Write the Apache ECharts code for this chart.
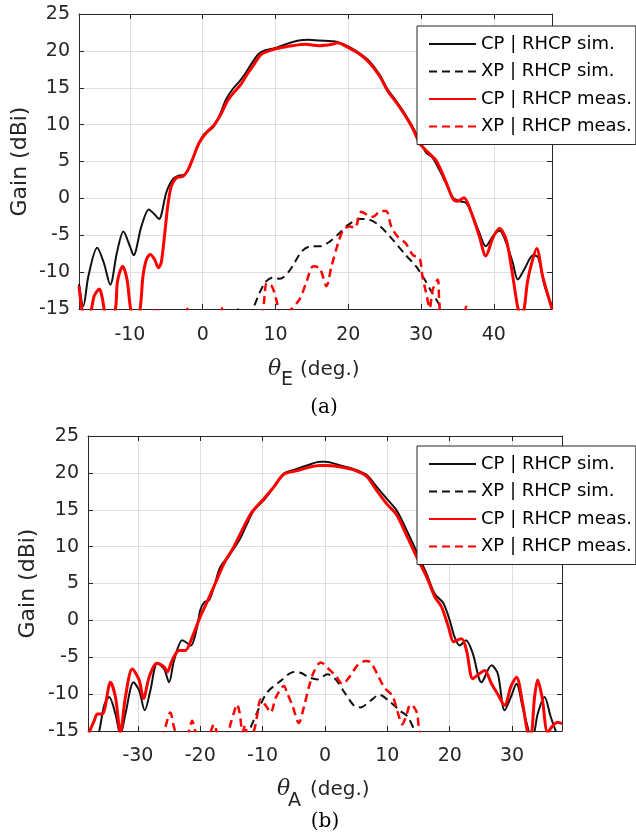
<!DOCTYPE html>
<html><head><meta charset="utf-8">
<script src="https://cdn.jsdelivr.net/npm/echarts@6/dist/echarts.min.js"></script>
<style>html,body{margin:0;padding:0;background:#fff}#c{width:636px;height:840px}</style>
</head><body><div id="c"></div>
<script>
// ---------- data (theta deg, gain dBi) ----------
const legendNames = ['CP | RHCP sim.', 'XP | RHCP sim.', 'CP | RHCP meas.', 'XP | RHCP meas.'];
const xTicksA = [-10, 0, 10, 20, 30, 40];
const xTicksB = [-30, -20, -10, 0, 10, 20, 30];

const cpSimA = [[-17,-11.6],[-16.4,-14.6],[-15.7,-10.5],[-14.5,-6.7],[-13.6,-8.7],[-12.7,-11.7],[-11.8,-7.4],[-10.9,-4.5],[-10,-6.5],[-9.5,-7.7],[-8.4,-3.7],[-7.4,-1.5],[-6.6,-2.2],[-6,-2.8],[-5,0.8],[-4.1,2.6],[-3.2,3.1],[-2.5,3.2],[-1.6,4.8],[-0.7,7.1],[0.2,8.7],[1.4,9.6],[2.3,11.2],[3.2,13.4],[4.1,14.8],[5,15.8],[5.9,17],[6.8,18.4],[7.7,19.6],[8.6,20.1],[10,20.4],[11.4,20.9],[13.2,21.4],[14.5,21.5],[16,21.4],[17.8,21.3],[18.5,21.2],[20,20.6],[21.5,19.7],[22.9,18.6],[24.3,16.8],[25.4,14.8],[26.6,13.2],[27.7,11.6],[28.9,9.6],[29.8,7.8],[30.7,6.2],[31.6,5.5],[32.5,3.9],[33.4,2.1],[34.4,0.1],[35.3,-0.4],[36.2,-0.6],[37.1,-2.4],[38,-4.6],[38.9,-6.5],[39.9,-5.1],[40.8,-4.4],[41.7,-6],[42.6,-8.7],[43.3,-11],[44.2,-9.6],[45.4,-7.7],[46.1,-8],[47,-11.9],[48,-14.6]];
const xpSimA = [[4.6,-16],[5,-14.8],[5.4,-16],[6.5,-16],[6.9,-15],[8.5,-11.5],[9.7,-10.7],[10.6,-10.9],[12,-9.7],[13.6,-7.2],[14.9,-6.5],[16.1,-6.5],[17.4,-5.9],[18.8,-4.7],[20,-3.6],[21.6,-2.8],[22.9,-2.9],[24.3,-3.7],[26.1,-5.6],[27.9,-7.7],[29.3,-9.2],[30.5,-11],[31.4,-12.6],[32.5,-14.4],[33,-15.5]];
const cpMeasA = [[-17,-11.9],[-16.6,-15],[-16,-17],[-15.3,-15],[-14.9,-13.2],[-14.2,-12.3],[-13.8,-13.5],[-13.5,-15.2],[-12.8,-17],[-12,-15],[-11.7,-11.2],[-11,-9.2],[-10.4,-11],[-9.9,-15],[-9.2,-17],[-8.6,-15],[-8.2,-10.5],[-7.7,-8.2],[-7.2,-7.6],[-6.6,-8.3],[-6.1,-9.4],[-5.7,-8.7],[-5.2,-4.6],[-4.8,-1],[-4.3,1.7],[-3.6,2.8],[-2.7,3],[-2,3.9],[-1.4,5.3],[-0.5,7.5],[0.5,8.9],[1.6,10],[2.5,11.4],[3.4,13.2],[4.3,14.4],[5.2,15.4],[6.1,16.8],[7,18.1],[8,19.5],[9.1,20],[10.5,20.4],[12.3,20.7],[14.1,20.9],[16,20.7],[17.8,20.9],[18.5,21.1],[20.1,20.4],[21.5,19.6],[22.9,18.4],[24.3,16.6],[25.4,14.6],[26.6,13],[27.7,11.4],[28.9,9.4],[29.8,7.5],[31,6.2],[32.1,5.1],[33.4,2.3],[34.4,-0.1],[35,-0.4],[35.9,0.1],[36.9,-1.9],[38,-5.1],[38.9,-7.8],[39.9,-5.3],[40.8,-4.1],[41.7,-5.6],[42.4,-9.2],[43.1,-13.7],[43.4,-15.2],[43.8,-16],[44.2,-14.8],[44.6,-11.5],[45.1,-9.2],[45.9,-6.8],[46.7,-10.5],[47.4,-13],[48,-15]];
const xpMeasA = [[-7,-16],[-6.2,-14.8],[-5.8,-16],[-3,-16],[-2.2,-14.8],[-1.8,-16],[2,-16],[2.8,-14.8],[3.2,-16],[7.8,-16],[8.3,-15],[8.8,-11.5],[9.5,-11.9],[10.1,-13.7],[10.5,-15.2],[11.2,-16],[12,-15.2],[13.3,-13.7],[14.2,-11.5],[15.2,-9.2],[16.1,-9.5],[17,-11.9],[17.7,-9.2],[18.6,-6.1],[19.3,-4.3],[20.2,-3.8],[20.9,-4],[21.8,-1.8],[22.7,-2.3],[23.4,-2.5],[24.3,-1.8],[25.2,-1.7],[25.9,-3.8],[26.8,-5.2],[27.9,-6.1],[28.9,-7.7],[29.8,-8.1],[30.2,-10.6],[30.7,-12.8],[31.2,-14.9],[31.6,-12.4],[32.3,-11],[32.5,-13.7],[32.9,-16],[35.8,-16],[36.2,-14.7],[36.6,-16]];

const cpSimB = [[-38,-18],[-37,-17],[-36.2,-15],[-35.4,-11.5],[-34.6,-10.4],[-33.6,-12.7],[-32.8,-15.5],[-32,-12.7],[-30.7,-8.4],[-29.8,-9.5],[-28.9,-12.2],[-28,-9.5],[-26.9,-5.8],[-25.8,-6.6],[-25,-8.4],[-24.2,-5.4],[-22.9,-2.7],[-22.4,-2.9],[-21.5,-3.4],[-20.5,-0.9],[-20,1.4],[-19.3,2.5],[-18.6,2.7],[-17.8,4.5],[-16.8,7.2],[-15.2,9],[-13.6,11.1],[-12.5,13.1],[-11.4,14.9],[-9.8,16.3],[-8.2,18.1],[-6.6,19.9],[-5,20.4],[-2.9,21],[-0.8,21.5],[0,21.5],[2.5,21],[4.6,20.5],[6.7,19.7],[8.3,18.1],[9.9,16.5],[11.5,14.9],[13.1,12.2],[14.7,9.3],[16.3,6.3],[17.6,3.6],[19,2.3],[20,0],[20.8,-2.3],[21.6,-3.4],[22.6,-2.7],[23.7,-4.5],[25.1,-8.4],[26.7,-6.1],[27.7,-7.2],[28.8,-12.2],[29.8,-10.4],[30.7,-8.6],[31.7,-11.8],[32.5,-14.5],[33.1,-16],[33.6,-15],[34.1,-12.7],[35.2,-10.4],[36.2,-13.1],[37,-15],[38,-17]];
const xpSimB = [[-13,-16],[-12.2,-15],[-10.9,-12.5],[-9.3,-9.8],[-7.1,-8.2],[-5,-7],[-3.9,-7.1],[-2.6,-7.7],[-1.2,-8],[0.4,-7.3],[1.7,-8],[3.3,-10],[4.7,-11.6],[5.7,-11.8],[7.3,-10.9],[8.7,-10.1],[10.5,-11.1],[12.1,-12.3],[13.2,-13],[14.3,-14.8],[15,-16]];
const cpMeasB = [[-38,-16.5],[-37.7,-15],[-37,-13.6],[-36.5,-12.7],[-35.7,-12.7],[-34.4,-8.4],[-33.6,-10.4],[-32.8,-15.2],[-32,-10.4],[-30.9,-6.6],[-29.8,-8.1],[-29.1,-10.6],[-28.2,-7.7],[-27,-5.8],[-25.8,-6.3],[-25.3,-7],[-24.5,-5.4],[-23.4,-4.1],[-22.4,-4.1],[-21.3,-2.3],[-20,0.5],[-18.9,2.5],[-17.6,5],[-16.2,7.7],[-14.6,10],[-13.3,12.2],[-11.7,14.7],[-9.8,16.5],[-8.2,18.1],[-6.6,19.8],[-4.5,20.3],[-2.4,20.8],[-0.8,21],[0,21],[2.5,20.8],[4.6,20.4],[6.7,19.5],[8.3,17.6],[9.9,15.8],[11.5,14.3],[13.1,11.5],[14.7,8.6],[16.3,5.9],[17.6,3.2],[18.7,1.8],[19.8,-0.9],[20.6,-2.9],[21.1,-2.7],[21.9,-2.5],[22.7,-4.1],[23.7,-7.9],[24.8,-7.2],[25.6,-6.8],[26.7,-8.6],[27.7,-10],[28.8,-11.5],[29.8,-9],[30.7,-7.7],[31.7,-11.3],[32.5,-15.2],[33,-15.5],[33.6,-10.4],[34.1,-8.1],[34.8,-10.4],[35.7,-15.2],[36.5,-14.3],[37.3,-13.8],[38,-14]];
const xpMeasB = [[-26.5,-16],[-25.8,-15],[-24.8,-12.5],[-24.2,-14.5],[-23.5,-16],[-22.3,-16],[-21.8,-15],[-21.3,-13.6],[-20.8,-15],[-20.2,-16],[-18.8,-16],[-18.3,-15],[-17.8,-14.1],[-17.3,-15.2],[-16.5,-16],[-15.5,-15],[-15.1,-13.9],[-14.6,-12.5],[-14.1,-11.4],[-13.7,-12.5],[-13.2,-15.2],[-12.8,-14.2],[-12.4,-15.5],[-11.5,-15.2],[-10.9,-13],[-10.3,-10.7],[-9.3,-11.8],[-8.7,-12.5],[-7.9,-10.5],[-6.6,-8.9],[-6,-10],[-5.2,-11.6],[-4.2,-13.9],[-3.4,-11.8],[-2.6,-9.1],[-1.8,-7],[-0.7,-5.7],[-0.2,-5.9],[0.6,-6.6],[1.7,-7.5],[2.8,-8.6],[3.9,-7.7],[5.2,-6.1],[6.5,-5.5],[7.3,-5.7],[8.4,-7.3],[9.5,-9.1],[10.8,-10.2],[11.6,-12.3],[12.4,-14.1],[13,-13],[13.7,-11.4],[14.3,-11.8],[14.8,-12.7],[15.1,-15],[15.6,-16]];

// ---------- styling ----------
const AX = '#262626', GRIDC = '#dedede';
const SANS = '"DejaVu Sans", sans-serif';
function xAx(gi, ticks, min, max, pos, margin) {
  const bottom = pos === 'bottom';
  return {
    type: 'value', gridIndex: gi, position: pos, min: min, max: max,
    axisLine: { show: true, onZero: false, lineStyle: { color: AX, width: 1 } },
    axisTick: { show: true, inside: true, length: 5, customValues: ticks, lineStyle: { color: AX } },
    axisLabel: { show: bottom, customValues: ticks, margin: margin, fontSize: 19, fontFamily: SANS, color: AX },
    splitLine: { show: bottom, lineStyle: { color: GRIDC, width: 1 } }
  };
}
function yAx(gi, pos) {
  const left = pos === 'left';
  return {
    type: 'value', gridIndex: gi, position: pos, min: -15, max: 25, interval: 5,
    axisLine: { show: true, onZero: false, lineStyle: { color: AX, width: 1 } },
    axisTick: { show: true, inside: true, length: 5, lineStyle: { color: AX } },
    axisLabel: { show: left, margin: 9, fontSize: 19, fontFamily: SANS, color: AX },
    splitLine: { show: left, lineStyle: { color: GRIDC, width: 1 } }
  };
}
function ser(name, data, color, width, dashed, idx) {
  return {
    name: name, type: 'line', data: data, xAxisIndex: idx, yAxisIndex: idx,
    symbol: 'none', smooth: 0.3, clip: true,
    lineStyle: { color: color, width: width, type: dashed ? [8, 5] : 'solid' },
    itemStyle: { color: color }
  };
}
function leg(top) {
  return {
    data: legendNames, orient: 'vertical', left: 417, top: top,
    backgroundColor: '#fff', borderColor: AX, borderWidth: 1,
    padding: [8, 4, 8, 11], itemGap: 7.5, itemWidth: 47, itemHeight: 14,
    selectedMode: false,
    itemStyle: { color: 'rgba(0,0,0,0)', borderColor: 'rgba(0,0,0,0)', borderWidth: 0, opacity: 0 },
    textStyle: { fontSize: 18, fontFamily: SANS, color: '#000', lineHeight: 20 }
  };
}
const BLACK = '#111111', RED = '#ff0000';
const chart = echarts.init(document.getElementById('c'), null, { renderer: 'canvas' });
chart.setOption({
  animation: false,
  backgroundColor: '#fff',
  grid: [
    { left: 79, top: 14, width: 473, height: 295 },
    { left: 88, top: 436, width: 474, height: 295 }
  ],
  xAxis: [
    xAx(0, xTicksA, -17, 48, 'bottom', 17),
    xAx(1, xTicksB, -38, 38, 'bottom', 16),
    xAx(0, xTicksA, -17, 48, 'top', 0),
    xAx(1, xTicksB, -38, 38, 'top', 0)
  ],
  yAxis: [yAx(0, 'left'), yAx(1, 'left'), yAx(0, 'right'), yAx(1, 'right')],
  legend: [leg(26), leg(446)],
  series: [
    ser(legendNames[0], cpSimA, BLACK, 2, false, 0),
    ser(legendNames[1], xpSimA, BLACK, 2, true, 0),
    ser(legendNames[2], cpMeasA, RED, 3, false, 0),
    ser(legendNames[3], xpMeasA, RED, 2.5, true, 0),
    ser(legendNames[0], cpSimB, BLACK, 2, false, 1),
    ser(legendNames[1], xpSimB, BLACK, 2, true, 1),
    ser(legendNames[2], cpMeasB, RED, 3, false, 1),
    ser(legendNames[3], xpMeasB, RED, 2.5, true, 1)
  ],
  graphic: [
    { type: 'text', x: 20, y: 161.5, rotation: Math.PI / 2, style: { text: 'Gain (dBi)', font: '22px "DejaVu Sans"', fill: AX, align: 'center', verticalAlign: 'middle' } },
    { type: 'text', x: 28, y: 583.5, rotation: Math.PI / 2, style: { text: 'Gain (dBi)', font: '22px "DejaVu Sans"', fill: AX, align: 'center', verticalAlign: 'middle' } },
    { type: 'text', x: 268, y: 369.5, style: { text: 'θ', font: 'italic 22px "DejaVu Serif"', fill: AX, align: 'left', verticalAlign: 'middle' } },
    { type: 'text', x: 281, y: 380.5, style: { text: 'E', font: '19px "DejaVu Sans"', fill: AX, align: 'left', verticalAlign: 'middle' } },
    { type: 'text', x: 300, y: 370, style: { text: '(deg.)', font: '20px "DejaVu Sans"', fill: AX, align: 'left', verticalAlign: 'middle' } },
    { type: 'text', x: 277, y: 789.5, style: { text: 'θ', font: 'italic 22px "DejaVu Serif"', fill: AX, align: 'left', verticalAlign: 'middle' } },
    { type: 'text', x: 288, y: 801.5, style: { text: 'A', font: '19px "DejaVu Sans"', fill: AX, align: 'left', verticalAlign: 'middle' } },
    { type: 'text', x: 310, y: 790, style: { text: '(deg.)', font: '20px "DejaVu Sans"', fill: AX, align: 'left', verticalAlign: 'middle' } },
    { type: 'text', x: 324, y: 408, style: { text: '(a)', font: '20px "DejaVu Serif"', fill: '#000', align: 'center', verticalAlign: 'middle' } },
    { type: 'text', x: 325, y: 822, style: { text: '(b)', font: '20px "DejaVu Serif"', fill: '#000', align: 'center', verticalAlign: 'middle' } }
  ]
});
</script></body></html>
